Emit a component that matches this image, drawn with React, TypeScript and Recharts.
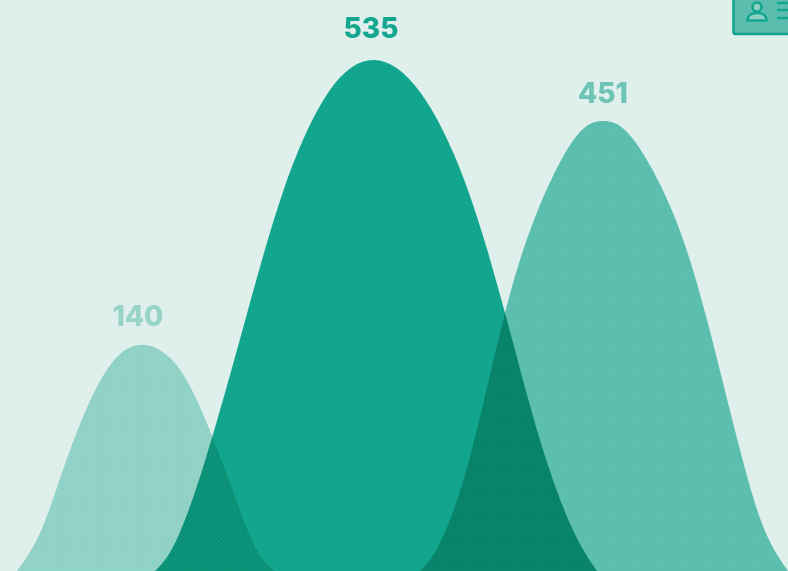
import React from "react"
import { AreaChart, Area, XAxis, YAxis } from "recharts"

// outlines of the three humps, x along the chart and h above the baseline
const smallX = [17, 40, 63, 90, 118, 146, 174, 200, 230, 255, 275]
const smallH = [0, 38, 101, 170, 215, 226, 209, 164, 88, 24, 0]
const smallPeak = 5
const smallLabel = "140"

const bigX = [155, 175, 205, 245, 285, 330, 375, 420, 465, 505, 540, 572, 597]
const bigH = [0, 28, 110, 250, 385, 481, 511, 479, 389, 258, 131, 43, 0]
const bigPeak = 6
const bigLabel = "535"

const midX = [420, 440, 470, 505, 538, 575, 604, 633, 673, 707, 740, 765, 788]
const midH = [0, 28, 114, 258, 361, 433, 450, 432, 358, 251, 121, 40, 0]
const midPeak = 6
const midLabel = "451"

const toRows = (xs: number[], hs: number[]) => xs.map((x, i) => ({ x, h: hs[i] }))

const peakLabel = (peak: number, text: string, color: string, dx: number, gap: number) => (p: any) =>
  p.index === peak ? (
    <text
      key={text}
      x={p.x + dx}
      y={p.y - gap}
      textAnchor="middle"
      fill={color}
      fontFamily="Inter, sans-serif"
      fontWeight={800}
      fontSize={28}
    >
      {text}
    </text>
  ) : (
    <g key={p.index} />
  )

export default function App() {
  return (
    <div
      style={{
        position: "absolute",
        left: 0,
        top: 0,
        width: 788,
        height: 571,
        overflow: "hidden",
        background: "#dfefeb",
        isolation: "isolate",
      }}
    >
      <style>{`.hump { mix-blend-mode: multiply; }`}</style>
      <AreaChart width={788} height={571} margin={{ top: 0, right: 0, bottom: 0, left: 0 }}>
        <defs>
          <pattern id="stipple" width="5" height="5" patternUnits="userSpaceOnUse">
            <rect width="5" height="5" fill="#a2e4d8" />
            <rect x="1" y="1" width="1" height="1" fill="#c8c0d4" />
            <rect x="3" y="3.5" width="1" height="1" fill="#c8c0d4" />
          </pattern>
          <pattern id="faint" width="12" height="12" patternUnits="userSpaceOnUse">
            <rect width="12" height="12" fill="#68cbbd" />
            <rect x="2" y="2" width="1" height="1" fill="#76d4c7" />
            <rect x="8" y="8" width="1" height="1" fill="#76d4c7" />
          </pattern>
          <pattern id="rows" width="4" height="6" patternUnits="userSpaceOnUse">
            <rect width="4" height="6" fill="#15b19b" />
            <rect x="1" y="2" width="1" height="1" fill="#12a993" />
          </pattern>
        </defs>
        <XAxis type="number" dataKey="x" domain={[0, 788]} hide allowDuplicatedCategory={false} />
        <YAxis type="number" domain={[0, 571]} hide />
        <Area
          className="hump"
          data={toRows(midX, midH)}
          dataKey="h"
          type="natural"
          stroke="none"
          fill="url(#faint)"
          fillOpacity={1}
          dot={false}
          activeDot={false}
          isAnimationActive={false}
          label={peakLabel(midPeak, midLabel, "#6cc4b5", -1, 18)}
        />
        <Area
          className="hump"
          data={toRows(smallX, smallH)}
          dataKey="h"
          type="natural"
          stroke="none"
          fill="url(#stipple)"
          fillOpacity={1}
          dot={false}
          activeDot={false}
          isAnimationActive={false}
          label={peakLabel(smallPeak, smallLabel, "#98d5c9", -8, 19)}
        />
        <Area
          className="hump"
          data={toRows(bigX, bigH)}
          dataKey="h"
          type="natural"
          stroke="none"
          fill="url(#rows)"
          fillOpacity={1}
          dot={false}
          activeDot={false}
          isAnimationActive={false}
          label={peakLabel(bigPeak, bigLabel, "#14a78f", -4, 22)}
        />
      </AreaChart>
      {/* id card icon cut off by the corner */}
      <svg width={56} height={36} style={{ position: "absolute", left: 732, top: 0 }}>
        <rect x={1.5} y={-6} width={70} height={40} rx={2} fill="#5cbdae" stroke="#12a68f" strokeWidth={2.5} />
        <circle cx={25} cy={7} r={4.5} fill="#8fd0c3" stroke="#12a68f" strokeWidth={2.5} />
        <path d="M15.5 20.500c0-5 4-7.500 9.500-7.500s9.500 2.500 9.500 7.500z" fill="#8fd0c3" stroke="#12a68f" strokeWidth={2.5} />
        <path d="M45 3h11M45 10h11M45 18h11" stroke="#12a68f" strokeWidth={2.5} />
      </svg>
    </div>
  )
}
